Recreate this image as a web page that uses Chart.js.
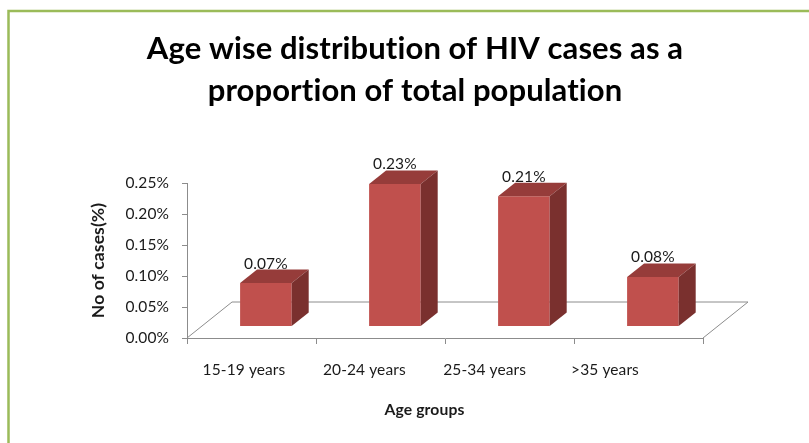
<!DOCTYPE html>
<html>
<head>
<meta charset="utf-8">
<script src="https://cdn.jsdelivr.net/npm/chart.js@4.4.0/dist/chart.umd.min.js"></script>
<style>
html,body{margin:0;padding:0;background:#fff;}
#wrap{position:relative;width:809px;height:443px;}
</style>
</head>
<body>
<div id="wrap"><canvas id="c" width="809" height="443"></canvas></div>
<script>
// ---- data ----
const categories = ['15-19 years', '20-24 years', '25-34 years', '>35 years'];
const casesPct = [0.07, 0.23, 0.21, 0.08];
const yTickValues = [0, 0.05, 0.10, 0.15, 0.20, 0.25];
const chartTitle = ['Age wise distribution of HIV cases as a', 'proportion of total population'];
const yAxisTitle = 'No of cases(%)';
const xAxisTitle = 'Age groups';

// ---- style ----
const FONT = 'Lato';
const TXT = '#1a1a1a';
const AXIS = '#8c8c8c';
const FRONT = '#C0504D';
const TOP = '#963C3A';
const SIDE = '#7A302E';
const FLOOR_DX = 45, FLOOR_DY = -36;   // floor depth projection
const BAR_SHIFT = 0.32;                  // bars sit part-way back on the floor
const BAR_DX = 17, BAR_DY = -13.5;       // bar depth projection
const LABEL_SIZE = 15.5;

const threeD = {
  id: 'threeD',
  beforeUpdate(chart) { chart.ctx.letterSpacing = '0.1px'; },
  beforeDraw(chart) {
    const ctx = chart.ctx;
    ctx.letterSpacing = '0.1px';
    ctx.save();
    ctx.strokeStyle = '#9BBB59';
    ctx.lineWidth = 2.5;
    ctx.strokeRect(8.5, 11, 900, 600);
    ctx.restore();
  },
  beforeDatasetsDraw(chart) {
    const ctx = chart.ctx, a = chart.chartArea;
    ctx.save();
    ctx.strokeStyle = AXIS;
    ctx.lineWidth = 1;
    ctx.beginPath();
    ctx.moveTo(a.left, a.bottom);
    ctx.lineTo(a.left + FLOOR_DX, a.bottom + FLOOR_DY);
    ctx.lineTo(a.right + FLOOR_DX, a.bottom + FLOOR_DY);
    ctx.lineTo(a.right, a.bottom);
    ctx.stroke();
    ctx.restore();
    ctx.save();
    ctx.translate(FLOOR_DX * BAR_SHIFT, FLOOR_DY * BAR_SHIFT);
  },
  afterDatasetsDraw(chart) {
    const ctx = chart.ctx;
    const meta = chart.getDatasetMeta(0);
    meta.data.forEach((bar, i) => {
      const p = bar.getProps(['x', 'y', 'base', 'width'], true);
      const l = p.x - p.width / 2, r = p.x + p.width / 2, t = p.y, b = p.base;
      ctx.fillStyle = TOP;
      ctx.beginPath();
      ctx.moveTo(l, t); ctx.lineTo(l + BAR_DX, t + BAR_DY);
      ctx.lineTo(r + BAR_DX, t + BAR_DY); ctx.lineTo(r, t); ctx.closePath();
      ctx.fill();
      ctx.fillStyle = SIDE;
      ctx.beginPath();
      ctx.moveTo(r, t); ctx.lineTo(r + BAR_DX, t + BAR_DY);
      ctx.lineTo(r + BAR_DX, b + BAR_DY); ctx.lineTo(r, b); ctx.closePath();
      ctx.fill();
      ctx.fillStyle = TXT;
      ctx.font = LABEL_SIZE + 'px ' + FONT;
      ctx.textAlign = 'center';
      ctx.textBaseline = 'middle';
      ctx.fillText(casesPct[i].toFixed(2) + '%', p.x, t - 19.5);
    });
    ctx.restore();
  },
  afterDraw(chart) {
    const ctx = chart.ctx;
    ctx.save();
    ctx.fillStyle = TXT;
    ctx.font = 'bold 15.7px ' + FONT;
    ctx.textAlign = 'center';
    ctx.textBaseline = 'middle';
    ctx.fillText(xAxisTitle, 424.5, 410);
    ctx.restore();
  }
};

new Chart(document.getElementById('c'), {
  type: 'bar',
  data: {
    labels: categories,
    datasets: [{
      data: casesPct,
      backgroundColor: FRONT,
      borderWidth: 0,
      categoryPercentage: 1,
      barPercentage: 0.4,
      xAxisID: 'x',
      yAxisID: 'y'
    }]
  },
  options: {
    responsive: false,
    animation: false,
    devicePixelRatio: 1,
    layout: { padding: { left: 21, right: 0, top: 0, bottom: 0 } },
    plugins: {
      legend: { display: false },
      tooltip: { enabled: false },
      title: {
        display: true,
        text: chartTitle,
        color: '#000',
        font: { family: FONT, size: 31, weight: 'bold', lineHeight: 1.355 },
        padding: { top: 28, bottom: 71 }
      }
    },
    scales: {
      x: {
        type: 'category',
        position: 'bottom',
        weight: 0,
        offset: true,
        grid: { display: true, offset: true, drawOnChartArea: false, drawTicks: true, tickLength: 6, color: AXIS },
        border: { display: true, color: AXIS },
        ticks: { display: false },
        afterFit(s) { s.height = 6; }
      },
      xl: {
        type: 'linear',
        position: 'bottom',
        weight: 1,
        offset: false,
        min: -0.4737,
        max: 3.8145,
        grid: { display: false, drawTicks: false, offset: false },
        border: { display: false },
        afterBuildTicks(s) { s.ticks = categories.map((c, i) => ({ value: i })); },
        ticks: {
          autoSkip: false,
          maxRotation: 0,
          padding: 17,
          color: TXT,
          font: { family: FONT, size: LABEL_SIZE },
          callback: (v) => categories[v]
        },
        afterFit(s) { s.height = 99; }
      },
      y: {
        type: 'linear',
        position: 'left',
        min: 0,
        max: 0.25,
        afterBuildTicks(s) { s.ticks = yTickValues.map(v => ({ value: v })); },
        grid: { display: true, drawOnChartArea: false, drawTicks: true, tickLength: 5, color: AXIS },
        border: { display: true, color: AXIS },
        ticks: {
          padding: 13,
          color: TXT,
          font: { family: FONT, size: LABEL_SIZE },
          callback: (v) => v.toFixed(2) + '%'
        },
        title: {
          display: true,
          text: yAxisTitle,
          color: TXT,
          font: { family: FONT, size: 17.5, weight: 'bold' },
          padding: { top: 66.5, bottom: 0 }
        },
        afterFit(s) { s.width = 166; }
      },
      ypad: {
        type: 'linear',
        position: 'right',
        grid: { display: false, drawTicks: false },
        border: { display: false },
        ticks: { display: false },
        afterFit(s) { s.width = 106; }
      }
    }
  },
  plugins: [threeD]
});
</script>
</body>
</html>
